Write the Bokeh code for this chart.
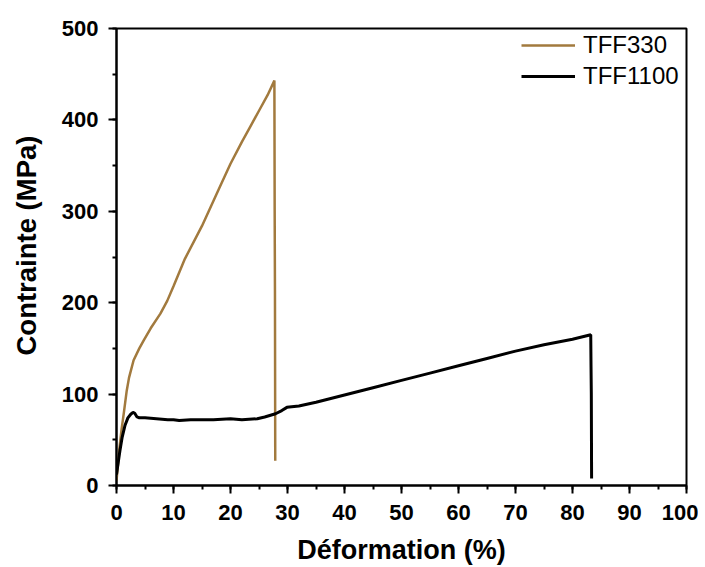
from bokeh.plotting import figure
from bokeh.models import SingleIntervalTicker, Legend, LegendItem, Range1d
from bokeh.embed import file_html
from bokeh.resources import INLINE

# TFF330 stress-strain curve
tff330_x = [0.0, 0.5, 0.9, 1.3, 1.8, 2.2, 3.0, 4.0, 4.8, 6.0, 7.7, 8.9, 10.0, 12.0, 15.0,
            18.0, 20.0, 22.0, 23.5, 25.0, 26.5, 27.7, 27.75, 27.8, 27.85]
tff330_y = [5, 40, 62, 80, 104, 118, 137, 150, 159, 172, 188, 202, 218, 248, 284,
            325, 352, 376, 393, 410, 427, 443, 300, 213, 27]

# TFF1100 stress-strain curve
tff1100_x = [0.0, 0.3, 0.6, 1.0, 1.5, 2.0, 2.5, 2.9, 3.2, 3.6, 4.0, 5.0, 7.0, 9.0, 10.0, 11.0,
             13.0, 15.0, 17.0, 20.0, 22.0, 24.7, 26.0, 27.9, 29.0, 29.9, 32.0, 35.0, 40.0,
             45.0, 50.0, 55.0, 60.0, 65.0, 70.0, 75.0, 80.0, 83.2, 83.25, 83.3, 83.35]
tff1100_y = [12, 25, 38, 53, 66, 74, 78, 80, 79, 75, 74, 74, 73, 72, 72, 71,
             72, 72, 72, 73, 72, 73, 75, 78.5, 82, 85.5, 87, 91, 99,
             107, 115, 123, 131, 139, 147, 154, 160, 165, 130, 100.6, 7.6]

x_ticks_interval = 10
y_ticks_interval = 100

p = figure(width=698, height=567, output_backend="svg", toolbar_location=None,
           x_range=Range1d(0, 100), y_range=Range1d(0, 500),
           frame_width=570, frame_height=457,
           min_border_left=116, min_border_right=12, min_border_top=28, min_border_bottom=82)

p.xgrid.visible = False
p.ygrid.visible = False
p.outline_line_color = "black"
p.outline_line_width = 2
p.outline_line_alpha = 1

r1 = p.line(tff330_x, tff330_y, line_color="#A27A3E", line_width=2.5)
r2 = p.line(tff1100_x, tff1100_y, line_color="black", line_width=3)

p.xaxis.ticker = SingleIntervalTicker(interval=x_ticks_interval, num_minor_ticks=2)
p.yaxis.ticker = SingleIntervalTicker(interval=y_ticks_interval, num_minor_ticks=2)

for ax in (p.xaxis[0], p.yaxis[0]):
    ax.axis_line_width = 2
    ax.major_tick_line_width = 2
    ax.minor_tick_line_width = 2
    ax.major_tick_in = 0
    ax.major_tick_out = 8
    ax.minor_tick_in = 0
    ax.minor_tick_out = 4
    ax.major_label_text_font = "Liberation Sans"
    ax.major_label_text_font_style = "bold"
    ax.major_label_text_font_size = "22px"
    ax.major_label_text_color = "black"
    ax.axis_label_text_font = "Liberation Sans"
    ax.axis_label_text_font_style = "bold"
    ax.axis_label_text_font_size = "27px"
    ax.axis_label_text_color = "black"

p.yaxis.axis_label_text_font_size = "27.5px"
p.xaxis.major_label_standoff = 11
p.yaxis.major_label_standoff = 10
p.xaxis.axis_label = "Déformation (%)"
p.yaxis.axis_label = "\u00a0\u00a0\u00a0Contrainte (MPa)"
p.xaxis.axis_label_standoff = 12
p.yaxis.axis_label_standoff = 17

legend = Legend(items=[LegendItem(label="TFF330", renderers=[r1]),
                       LegendItem(label="TFF1100", renderers=[r2])],
                location=(405, 395), padding=0, margin=0, spacing=3,
                glyph_width=54, glyph_height=20, label_height=20, label_standoff=8,
                label_text_font="Liberation Sans", label_text_font_size="24px",
                label_text_color="black",
                border_line_alpha=0, background_fill_alpha=0)
p.add_layout(legend, "center")

open("out.html", "w").write(file_html(p, INLINE))
